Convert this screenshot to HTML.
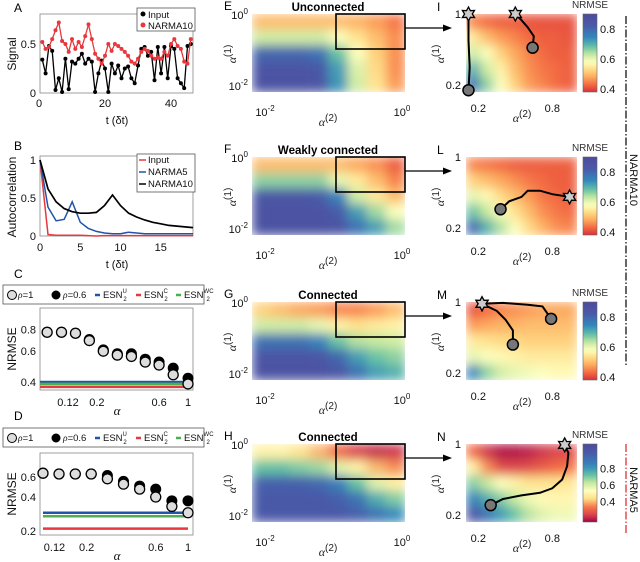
<!DOCTYPE html>
<html><head><meta charset="utf-8"><style>
html,body{margin:0;padding:0;background:#fff;}
svg{display:block;font-family:"Liberation Sans",sans-serif;}
</style></head><body>
<svg id="fig" width="640" height="562" viewBox="0 0 640 562" xmlns="http://www.w3.org/2000/svg"></svg>
<script>
// ---------- DATA ----------
const tA = Array.from({length:46},(_,i)=>i+1);
const inputA = [0.34,0.2,0.48,0.43,0.03,0.15,0.01,0.35,0.04,0.32,0.3,0.35,0.4,0.3,0.35,0.32,0.01,0.2,0.33,0.25,0.01,0.3,0.2,0.28,0.15,0.25,0.27,0.15,0.1,0.28,0.45,0.47,0.38,0.42,0.13,0.47,0.2,0.47,0.15,0.48,0.45,0.15,0.1,0.05,0.48,0.5];
const narma10A = [0.52,0.45,0.47,0.55,0.64,0.72,0.53,0.5,0.42,0.55,0.45,0.52,0.47,0.58,0.7,0.55,0.4,0.35,0.3,0.38,0.5,0.43,0.5,0.48,0.45,0.42,0.38,0.32,0.3,0.35,0.42,0.45,0.43,0.38,0.35,0.36,0.35,0.42,0.38,0.5,0.55,0.48,0.45,0.32,0.3,0.55];
const lagB = Array.from({length:20},(_,i)=>i);
const acInput = [1,0.02,0.01,0.01,0.01,0.01,0.005,0,0.005,0.005,0.005,0.005,0.005,0.005,0.005,0.005,0.005,0.005,0.005,0.005];
const acN5 = [1,0.38,0.2,0.22,0.45,0.18,0.1,0.06,0.04,0.03,0.03,0.05,0.04,0.03,0.03,0.03,0.03,0.03,0.03,0.03];
const acN10 = [1,0.62,0.45,0.36,0.32,0.3,0.3,0.31,0.4,0.54,0.4,0.3,0.25,0.21,0.18,0.16,0.14,0.13,0.12,0.11];
const alphaC = [0.083,0.107,0.137,0.175,0.224,0.287,0.368,0.47,0.6,0.77,1.0];
const rho1C = [0.77,0.77,0.76,0.69,0.6,0.57,0.56,0.52,0.5,0.44,0.39];
const rho06C = [0.77,0.77,0.76,0.7,0.61,0.58,0.58,0.54,0.52,0.48,0.42];
const esnC = [0.40,0.375,0.39]; // U, C, WC
const alphaD = [0.1,0.129,0.167,0.215,0.278,0.359,0.464,0.599,0.774,1.0];
const rho1D = [0.65,0.64,0.64,0.64,0.58,0.52,0.47,0.40,0.33,0.29];
const rho06D = [0.65,0.64,0.64,0.64,0.62,0.55,0.50,0.47,0.37,0.37];
const esnD = [0.29,0.21,0.27];
const gridE = [[0.5,0.5,0.5,0.5,0.5,0.49,0.47,0.44],[0.62,0.62,0.62,0.62,0.58,0.54,0.5,0.46],[0.8,0.8,0.8,0.78,0.68,0.58,0.52,0.46],[0.85,0.85,0.85,0.83,0.72,0.61,0.53,0.46],[0.86,0.86,0.86,0.84,0.73,0.62,0.54,0.47]];
const gridI = [[0.45,0.43,0.42,0.42,0.41,0.41,0.41,0.41],[0.55,0.5,0.47,0.45,0.43,0.42,0.42,0.41],[0.62,0.58,0.52,0.48,0.45,0.43,0.42,0.42],[0.7,0.62,0.56,0.5,0.46,0.44,0.43,0.42],[0.78,0.66,0.58,0.52,0.47,0.45,0.43,0.42]];
const gridF = [[0.5,0.5,0.5,0.5,0.5,0.48,0.46,0.42],[0.66,0.66,0.66,0.66,0.6,0.55,0.5,0.45],[0.84,0.84,0.84,0.82,0.75,0.62,0.55,0.5],[0.86,0.86,0.86,0.86,0.82,0.72,0.65,0.58],[0.86,0.86,0.86,0.86,0.85,0.78,0.72,0.65]];
const gridL = [[0.45,0.44,0.43,0.42,0.42,0.42,0.42,0.42],[0.52,0.5,0.48,0.46,0.44,0.43,0.42,0.42],[0.6,0.57,0.53,0.5,0.47,0.44,0.43,0.42],[0.68,0.63,0.58,0.54,0.5,0.46,0.44,0.43],[0.8,0.7,0.64,0.58,0.53,0.49,0.46,0.45]];
const gridG = [[0.52,0.5,0.48,0.47,0.45,0.45,0.47,0.5],[0.62,0.62,0.62,0.6,0.56,0.54,0.55,0.56],[0.78,0.78,0.78,0.75,0.68,0.64,0.63,0.62],[0.85,0.85,0.85,0.84,0.8,0.72,0.68,0.66],[0.86,0.86,0.86,0.86,0.84,0.78,0.72,0.7]];
const gridM = [[0.41,0.43,0.45,0.46,0.47,0.48,0.48,0.48],[0.47,0.48,0.49,0.49,0.5,0.5,0.5,0.5],[0.55,0.54,0.53,0.53,0.52,0.52,0.52,0.52],[0.6,0.58,0.57,0.56,0.55,0.55,0.55,0.55],[0.75,0.66,0.62,0.6,0.59,0.58,0.57,0.57]];
const gridH = [[0.45,0.45,0.42,0.38,0.32,0.26,0.24,0.25],[0.62,0.62,0.6,0.58,0.52,0.45,0.38,0.35],[0.8,0.8,0.8,0.78,0.72,0.62,0.52,0.45],[0.82,0.82,0.82,0.82,0.8,0.75,0.65,0.6],[0.82,0.82,0.82,0.82,0.82,0.8,0.75,0.7]];
const gridN = [[0.32,0.25,0.22,0.22,0.23,0.25,0.27,0.28],[0.45,0.35,0.28,0.27,0.28,0.3,0.32,0.33],[0.6,0.55,0.48,0.45,0.42,0.42,0.42,0.43],[0.72,0.65,0.6,0.55,0.5,0.47,0.46,0.46],[0.85,0.75,0.68,0.62,0.56,0.52,0.5,0.5]];
const trajI = [[[0.12,0.14],[0.13,0.4],[0.12,0.7],[0.12,1.0]],[[0.64,0.62],[0.65,0.75],[0.6,0.85],[0.55,0.93],[0.5,1.0]]];
const trajL = [[[0.38,0.41],[0.45,0.5],[0.55,0.55],[0.6,0.62],[0.7,0.62],[0.8,0.58],[0.94,0.55]]];
const trajM = [[[0.79,0.81],[0.72,0.95],[0.6,0.97],[0.4,0.99],[0.23,0.98]],[[0.48,0.52],[0.48,0.68],[0.42,0.8],[0.35,0.9],[0.23,0.98]]];
const trajN = [[[0.3,0.31],[0.4,0.38],[0.55,0.42],[0.7,0.45],[0.8,0.5],[0.88,0.6],[0.92,0.75],[0.93,0.9],[0.9,0.99]]];
const cbTicks = [0.8,0.6,0.4];

// ---------- helpers ----------
const NS='http://www.w3.org/2000/svg';
const svg=document.getElementById('fig');
function mk(tag,attrs,parent){const e=document.createElementNS(NS,tag);for(const k in attrs)e.setAttribute(k,attrs[k]);(parent||svg).appendChild(e);return e;}
function txt(x,y,s,size,anchor,extra){const e=mk('text',Object.assign({x:x,y:y,'font-size':size,'text-anchor':anchor||'start',fill:'#111'},extra||{}));e.textContent=s;return e;}
const defs=mk('defs',{});
const stopsStd=[[0,'#d7303a'],[0.1,'#f46d43'],[0.2,'#fdae61'],[0.3,'#fee08b'],[0.38,'#ffffbf'],[0.48,'#c7e9a0'],[0.58,'#66c2a5'],[0.7,'#3288bd'],[0.85,'#4a5aa8'],[1,'#4e4a9c']];
const stopsN=[[0,'#9e0142'],[0.08,'#d53e4f'],[0.18,'#f46d43'],[0.3,'#fee08b'],[0.4,'#ffffbf'],[0.5,'#c7e9a0'],[0.6,'#66c2a5'],[0.72,'#3288bd'],[0.88,'#4a5aa8'],[1,'#4e4a9c']];
function hx(c){return [parseInt(c.slice(1,3),16),parseInt(c.slice(3,5),16),parseInt(c.slice(5,7),16)];}
function cmap(v,lo,hi,stops){let t=Math.max(0,Math.min(1,(v-lo)/(hi-lo)));for(let i=1;i<stops.length;i++){if(t<=stops[i][0]){const a=stops[i-1],b=stops[i];const f=(t-a[0])/(b[0]-a[0]);const c1=hx(a[1]),c2=hx(b[1]);return 'rgb('+c1.map((c,j)=>Math.round(c+(c2[j]-c)*f)).join(',')+')';}}return stops[stops.length-1][1];}
function labelPanel(x,y,s){const e=txt(x,y,s,12,'start',{fill:'#000'});}
function alphaLabel(x,y,sup,rot){const g=mk('g',{transform:'translate('+x+','+y+')'+(rot?' rotate(-90)':'')});
 const t=mk('text',{x:0,y:0,'font-size':12,'text-anchor':'middle',fill:'#222'},g);
 const a=mk('tspan',{'font-family':'Liberation Serif, serif','font-style':'italic'},t);a.textContent='α';
 const b=mk('tspan',{dy:-5,'font-size':10},t);b.textContent='('+sup+')';return g;}
function pow10(x,y,exp,anchor){const t=mk('text',{x:x,y:y,'font-size':11,'text-anchor':anchor,fill:'#111'});const a=mk('tspan',{},t);a.textContent='10';const b=mk('tspan',{dy:-5,'font-size':8},t);b.textContent=exp;return t;}

// ---------- Panel A ----------
labelPanel(14,12,'A');
const xA=t=>39+t*3.3, yA=v=>93-v*98;
const axA=mk('rect',{x:40,y:14,width:153,height:79,fill:'none',stroke:'#888','stroke-width':0.8});

[0,0.5].forEach(v=>{txt(36,yA(v)+4,String(v),11,'end');});
[0,20,40].forEach(v=>{txt(xA(v),107,String(v),11,'middle');});
txt(117,124,'t (δt)',11,'middle');
{const yl=txt(0,0,'Signal',12,'middle',{transform:'translate(16,54) rotate(-90)'});}
function series(xs,ys,xf,yf,color,name,dots,w){const p=mk('path',{d:xs.map((x,i)=>(i?'L':'M')+xf(x).toFixed(1)+','+yf(ys[i]).toFixed(1)).join(''),fill:'none',stroke:color,'stroke-width':w||1.3});
 
 if(dots)xs.forEach((x,i)=>{const c=mk('circle',{cx:xf(x),cy:yf(ys[i]),r:2,fill:color});});}
series(tA,inputA,xA,yA,'#000','input-signal-line',true);
series(tA,narma10A,xA,yA,'#e8383d','narma10-signal-line',true);
{const lg=mk('g',{});
 mk('rect',{x:137,y:8,width:58,height:23,fill:'#fff',stroke:'#555','stroke-width':0.8},lg);
 mk('circle',{cx:143,cy:14,r:2.5,fill:'#000'},lg);mk('circle',{cx:143,cy:25,r:2.5,fill:'#e8383d'},lg);
 const t1=mk('text',{x:148,y:18,'font-size':9.5,fill:'#111'},lg);t1.textContent='Input';
 const t2=mk('text',{x:148,y:29,'font-size':9.5,fill:'#111'},lg);t2.textContent='NARMA10';}

// ---------- Panel B ----------
labelPanel(14,150,'B');
const xB=t=>40+t*8.05, yB=v=>236-v*76;
const axB=mk('rect',{x:40,y:156,width:153,height:80,fill:'none',stroke:'#888','stroke-width':0.8});

[1,0.5,0].forEach(v=>txt(36,yB(v)+4,String(v),11,'end'));
[0,5,10,15].forEach(v=>txt(xB(v),251,String(v),11,'middle'));
txt(117,268,'t (δt)',11,'middle');
{const yl=txt(0,0,'Autocorrelation',12,'middle',{transform:'translate(16,197) rotate(-90)'});}
series(lagB,acInput,xB,yB,'#e8383d','input-autocorr-line',false,1.5);
series(lagB,acN5,xB,yB,'#2255aa','narma5-autocorr-line',false,1.5);
series(lagB,acN10,xB,yB,'#000','narma10-autocorr-line',false,1.7);
{const lg=mk('g',{});
 mk('rect',{x:137,y:154,width:58,height:38,fill:'#fff',stroke:'#555','stroke-width':0.8},lg);
 [['Input','#e8383d',163],['NARMA5','#2255aa',175],['NARMA10','#000',187]].forEach(([s,c,y])=>{mk('line',{x1:139,x2:146,y1:y-3,y2:y-3,stroke:c,'stroke-width':1.5},lg);const t=mk('text',{x:148,y:y,'font-size':9.5,fill:'#111'},lg);t.textContent=s;});}

// ---------- Panels C / D ----------
function esnLegend(y,name){const lg=mk('g',{});
 mk('rect',{x:3,y:y,width:201,height:19,fill:'#fff',stroke:'#555','stroke-width':0.8},lg);
 mk('circle',{cx:12,cy:y+10,r:4.5,fill:'#ddd',stroke:'#000','stroke-width':1},lg);
 let t=mk('text',{x:18,y:y+13,'font-size':9.5,fill:'#111'},lg);t.innerHTML='<tspan font-family="Liberation Serif" font-style="italic">ρ</tspan>=1';
 mk('circle',{cx:56,cy:y+10,r:4.5,fill:'#000'},lg);
 t=mk('text',{x:63,y:y+13,'font-size':9.5,fill:'#111'},lg);t.innerHTML='<tspan font-family="Liberation Serif" font-style="italic">ρ</tspan>=0.6';
 [['U','#2255aa',95],['C','#e8383d',136],['WC','#4caf50',176]].forEach(([s,c,x])=>{mk('line',{x1:x,x2:x+5,y1:y+10,y2:y+10,stroke:c,'stroke-width':2.5},lg);
  const tt=mk('text',{x:x+8,y:y+13,'font-size':9.5,fill:'#111'},lg);tt.innerHTML='ESN<tspan font-size="6" dy="-5">'+s+'</tspan><tspan font-size="6" dx="-'+(s.length*3.5)+'" dy="8">2</tspan>';});}
function scatterPanel(top,bot,xf,yf,alphas,r1,r06,esn,yticks,xticks,esnX0,nm){
 const ax=mk('rect',{x:40,y:top,width:153,height:bot-top,fill:'none',stroke:'#888','stroke-width':0.8});
 
 yticks.forEach(v=>txt(36,yf(v)+4,String(v),11,'end'));
 xticks.forEach(v=>txt(xf(v),bot+16,String(v),11,'middle'));
 const xl=txt(117,bot+25,'α',13,'middle',{'font-family':'Liberation Serif, serif','font-style':'italic'});
 const yl=txt(0,0,'NRMSE',12,'middle',{transform:'translate(16,'+((top+bot)/2)+') rotate(-90)'});
 [['#2255aa',esn[0],'esn-u-line'],['#4caf50',esn[2],'esn-wc-line'],['#e8383d',esn[1],'esn-c-line']].forEach(([c,v,n])=>{const l=mk('line',{x1:esnX0,x2:188,y1:yf(v),y2:yf(v),stroke:c,'stroke-width':2.5});});
 alphas.forEach((a,i)=>{const c=mk('circle',{cx:xf(a),cy:yf(r06[i]),r:5.5,fill:'#000'});});
 alphas.forEach((a,i)=>{const c=mk('circle',{cx:xf(a),cy:yf(r1[i]),r:5,fill:'#ddd',stroke:'#000','stroke-width':1.3});});
}
labelPanel(14,278,'C');
esnLegend(285,'panel-c-legend');
scatterPanel(308,390,a=>188+Math.log(a)*56.6,v=>382-Math.log(v/0.4)*76,alphaC,rho1C,rho06C,esnC,[0.8,0.6,0.4],[0.12,0.2,0.6,1],40,'panel-c');
labelPanel(14,420,'D');
esnLegend(428,'panel-d-legend');
scatterPanel(453,535,a=>188+Math.log10(a)*145,v=>497-Math.log(v/0.4)*49,alphaD,rho1D,rho06D,esnD,[0.6,0.4,0.2],[0.12,0.2,0.6,1],43,'panel-d');

// ---------- Heatmaps ----------
let fid=0;
function heat(x,y,w,h,grid,lo,hi,stops,nm){fid++;
 const f=mk('filter',{id:'bl'+fid,x:x,y:y,width:w,height:h,filterUnits:'userSpaceOnUse'},defs);
 mk('feGaussianBlur',{stdDeviation:Math.min(w,h)/15,edgeMode:'duplicate'},f);
 const cp=mk('clipPath',{id:'cp'+fid},defs);mk('rect',{x:x,y:y,width:w,height:h},cp);
 const g0=mk('g',{'clip-path':'url(#cp'+fid+')'});
 const g=mk('g',{filter:'url(#bl'+fid+')'},g0);
 
 const R=grid.length,C=grid[0].length;
 grid.forEach((row,i)=>row.forEach((v,j)=>{const r=mk('rect',{x:x+j*w/C,y:y+i*h/R,width:w/C+0.6,height:h/R+0.6,fill:cmap(v,lo,hi,stops)},g);
  }));
}
const rows=[
 {top:14,L:'E',Z:'I',title:'Unconnected',big:gridE,zoom:gridI,traj:trajI,n:false},
 {top:157,L:'F',Z:'L',title:'Weakly connected',big:gridF,zoom:gridL,traj:trajL,n:false},
 {top:302,L:'G',Z:'M',title:'Connected',big:gridG,zoom:gridM,traj:trajM,n:false},
 {top:444,L:'H',Z:'N',title:'Connected',big:gridH,zoom:gridN,traj:trajN,n:true}];
function star(cx,cy,r){let p='';for(let i=0;i<12;i++){const rr=i%2?r*0.55:r;const a=-Math.PI/2+i*Math.PI/6;p+=(i?'L':'M')+(cx+rr*Math.cos(a)).toFixed(1)+','+(cy+rr*Math.sin(a)).toFixed(1);}return p+'Z';}
rows.forEach(rw=>{const t=rw.top,h=78;
 const st=rw.n?stopsN:stopsStd, lo=rw.n?0.2:0.38, hi=0.9;
 labelPanel(224,t-4,rw.L);
 heat(252,t,153,h,rw.big,lo,hi,st,'heatmap-'+rw.L.toLowerCase());
 const tt=txt(328,t-3,rw.title,11.5,'middle',{'font-weight':'bold',fill:'#000'});
 pow10(248,t+5,'0','end');pow10(248,t+76,'-2','end');
 pow10(265,t+102,'-2','middle');pow10(402,t+102,'0','middle');
 alphaLabel(328,t+112,'2',false);alphaLabel(236,t+40,'1',true);
 const box=mk('rect',{x:336,y:t,width:69,height:35,fill:'none',stroke:'#000','stroke-width':1.6});
 const ar=mk('line',{x1:405,y1:t+14,x2:446,y2:t+14,stroke:'#000','stroke-width':1.2});
 mk('path',{d:'M452,'+(t+14)+' L443,'+(t+10.5)+' L443,'+(t+17.5)+'Z',fill:'#000'});
 labelPanel(437,t-3,rw.Z);
 const zx=466,zw=111;
 heat(zx,t,zw,h,rw.zoom,lo,hi,st,'heatmap-'+rw.Z.toLowerCase());
 const xz=a=>zx+(a-0.1)/0.9*zw, yz=a=>t+(1-a)/0.88*h;
 txt(461,yz(1)+4,'1',11,'end');txt(461,yz(0.2)+4,'0.2',11,'end');
 txt(xz(0.2),t+98,'0.2',11,'middle');txt(xz(0.8),t+98,'0.8',11,'middle');
 alphaLabel(522,t+108,'2',false);alphaLabel(444,t+40,'1',true);
 rw.traj.forEach((tr,k)=>{const p=mk('path',{d:tr.map((q,i)=>(i?'L':'M')+xz(q[0]).toFixed(1)+','+yz(q[1]).toFixed(1)).join(''),fill:'none',stroke:'#000','stroke-width':2});
  
  const s0=tr[0],s1=tr[tr.length-1];
  const c=mk('circle',{cx:xz(s0[0]),cy:yz(s0[1]),r:5.5,fill:'#777',stroke:'#000','stroke-width':1.5});
  const s=mk('path',{d:star(xz(s1[0]),yz(s1[1]),7),fill:'#ccc',stroke:'#000','stroke-width':1.3});});
 fid++;const lg=mk('linearGradient',{id:'cb'+fid,x1:0,y1:1,x2:0,y2:0},defs);
 for(let k=0;k<=20;k++){mk('stop',{offset:k/20,'stop-color':cmap(lo+(hi-lo)*k/20,lo,hi,st)},lg);}
 const cb=mk('rect',{x:583,y:t,width:14,height:h,fill:'url(#cb'+fid+')',stroke:'#666','stroke-width':0.6});
 cbTicks.forEach(v=>{const yy=rw.n?t+h-(v-0.15)/0.95*h:t+h-(v-0.38)/0.52*h;txt(600,yy+4,String(v),11,'start');});
 const nt=txt(590,t-6,'NRMSE',10,'middle',{fill:'#333'});
});
{const l=mk('line',{x1:626,x2:626,y1:16,y2:366,stroke:'#000','stroke-width':1.2,'stroke-dasharray':'8,2,1.5,2'});
 const t=txt(0,0,'NARMA10',11,'middle',{transform:'translate(630,180) rotate(90)'});
 const l2=mk('line',{x1:626,x2:626,y1:444,y2:535,stroke:'#d22','stroke-width':1.2,'stroke-dasharray':'8,2,1.5,2'});
 const t2=txt(0,0,'NARMA5',11,'middle',{transform:'translate(630,490) rotate(90)'});}
</script>
</body></html>
